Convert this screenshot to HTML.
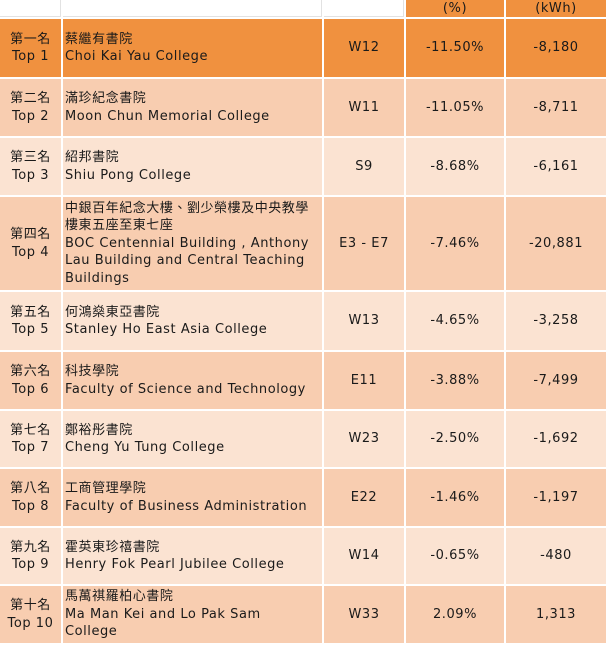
<!DOCTYPE html>
<html><head><meta charset="utf-8">
<style>
html,body{margin:0;padding:0;background:#fff;width:606px;height:643px;overflow:hidden}
table{position:absolute;left:-2px;top:-2px;border-collapse:separate;border-spacing:2px;table-layout:fixed;width:610px}
td{padding:0 3px;font-family:"DejaVu Sans","Noto Sans CJK TC",sans-serif;font-size:13px;letter-spacing:0.55px;line-height:17.5px;color:#1a1a1a;vertical-align:middle;text-align:center;box-sizing:border-box;overflow:hidden}
td.n{text-align:left;padding-left:2px;padding-right:2px}
tr.h td{height:17px;line-height:15px;background:#fff;border-right:1px solid #e2e2e2;border-bottom:1px solid #e2e2e2}
tr.h td.o{background:#f0913f;border:none}
tr.a td{background:#f0913f}
tr.b td{background:#f8cdb0}
tr.c td{background:#fbe3d2}
</style></head><body>
<table>
<colgroup><col style="width:61px"><col style="width:259px"><col style="width:80px"><col style="width:98px"><col style="width:100px"></colgroup>
<tr class="h"><td></td><td></td><td></td><td class="o">(%)</td><td class="o">(kWh)</td></tr>
<tr class="a" style="height:58px"><td>第一名<br>Top 1</td><td class="n">蔡繼有書院<br>Choi Kai Yau College</td><td>W12</td><td>-11.50%</td><td>-8,180</td></tr>
<tr class="b" style="height:57px"><td>第二名<br>Top 2</td><td class="n">滿珍紀念書院<br>Moon Chun Memorial College</td><td>W11</td><td>-11.05%</td><td>-8,711</td></tr>
<tr class="c" style="height:57px"><td>第三名<br>Top 3</td><td class="n">紹邦書院<br>Shiu Pong College</td><td>S9</td><td>-8.68%</td><td>-6,161</td></tr>
<tr class="b" style="height:93px"><td>第四名<br>Top 4</td><td class="n">中銀百年紀念大樓、劉少榮樓及中央教學<br>樓東五座至東七座<br>BOC Centennial Building , Anthony Lau Building and Central Teaching Buildings</td><td>E3 - E7</td><td>-7.46%</td><td>-20,881</td></tr>
<tr class="c" style="height:58px"><td>第五名<br>Top 5</td><td class="n">何鴻燊東亞書院<br>Stanley Ho East Asia College</td><td>W13</td><td>-4.65%</td><td>-3,258</td></tr>
<tr class="b" style="height:57px"><td>第六名<br>Top 6</td><td class="n">科技學院<br>Faculty of Science and Technology</td><td>E11</td><td>-3.88%</td><td>-7,499</td></tr>
<tr class="c" style="height:56px"><td>第七名<br>Top 7</td><td class="n">鄭裕彤書院<br>Cheng Yu Tung College</td><td>W23</td><td>-2.50%</td><td>-1,692</td></tr>
<tr class="b" style="height:57px"><td>第八名<br>Top 8</td><td class="n">工商管理學院<br>Faculty of Business Administration</td><td>E22</td><td>-1.46%</td><td>-1,197</td></tr>
<tr class="c" style="height:56px"><td>第九名<br>Top 9</td><td class="n">霍英東珍禧書院<br>Henry Fok Pearl Jubilee College</td><td>W14</td><td>-0.65%</td><td>-480</td></tr>
<tr class="b" style="height:57px"><td>第十名<br>Top 10</td><td class="n">馬萬祺羅柏心書院<br>Ma Man Kei and Lo Pak Sam<br>College</td><td>W33</td><td>2.09%</td><td>1,313</td></tr>
</table>
</body></html>
